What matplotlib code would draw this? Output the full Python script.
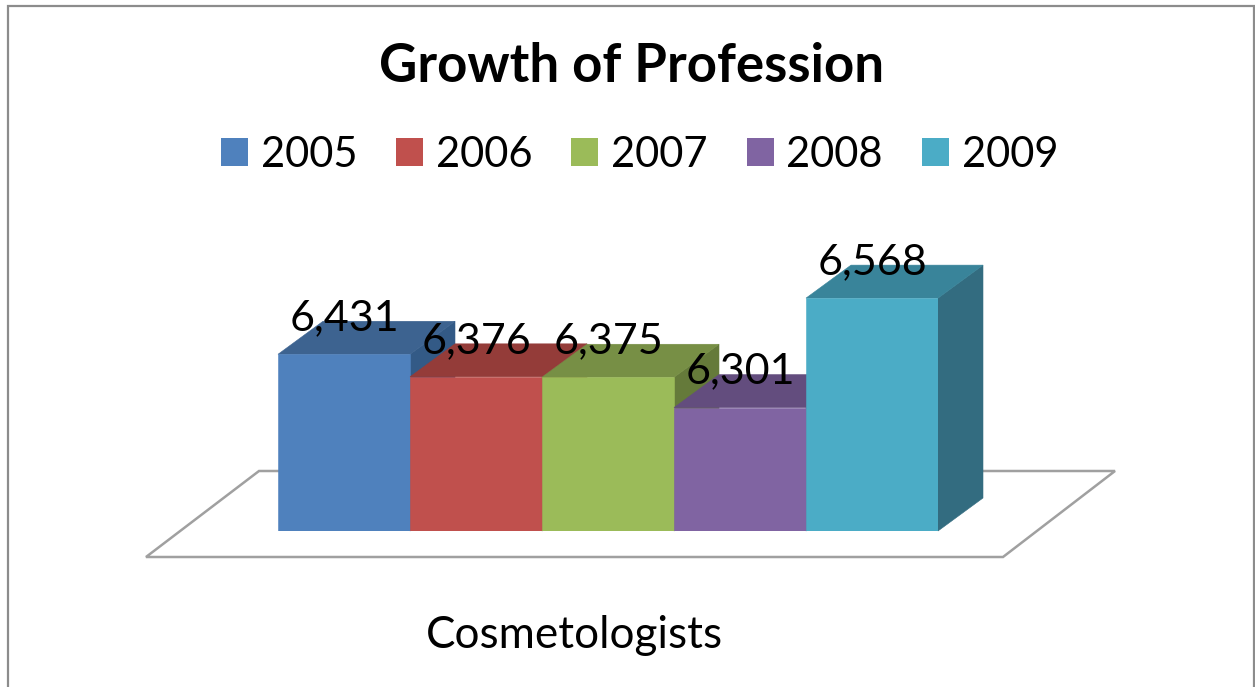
import matplotlib
matplotlib.use('Agg')
import matplotlib.pyplot as plt
import matplotlib.patches as patches

years = ['2005', '2006', '2007', '2008', '2009']
counts = [6431, 6376, 6375, 6301, 6568]
category = 'Cosmetologists'
title = 'Growth of Profession'

front_colors = ['#4F81BD', '#C0504D', '#9BBB59', '#8064A2', '#4BACC6']
top_colors = ['#3D6390', '#943C39', '#778F45', '#634D7E', '#39849A']
side_colors = ['#335A86', '#7E3331', '#657A3A', '#544269', '#336C80']

W, H = 1255, 687
plt.rcParams['font.family'] = ['Lato', 'DejaVu Sans']
fig = plt.figure(figsize=(W / 100, H / 100), dpi=100)

# background layer works in pixels, y down
bg = fig.add_axes([0, 0, 1, 1])
bg.set_xlim(0, W)
bg.set_ylim(H, 0)
bg.axis('off')

# chart border, runs off the bottom
bg.plot([8, 8, 1254, 1254], [H, 6, 6, H], color='#8c8c8c', lw=1.6, solid_joinstyle='miter')

# floor of the 3d chart
floor = patches.Polygon([(146, 557), (259, 471), (1115, 471), (1003, 557)], closed=True,
                        facecolor='white', edgecolor='#a0a0a0', lw=1.8)
bg.add_patch(floor)

bg.text(632, 66, title, fontsize=38, fontweight='bold', ha='center', va='center')
bg.text(574, 648, category, fontsize=31.7, ha='center', va='baseline')

# bars: 132 px per category, 0.41 px per unit, base value 6000 at y=531
base = 6000
px_per_unit = 0.41
ax = fig.add_axes([278 / W, (H - 531) / H, 660 / W, 531 / H])
ax.patch.set_alpha(0)
ax.set_xlim(-0.5, 4.5)
ax.set_ylim(base, base + 531 / px_per_unit)
ax.axis('off')

depth_x = 45 / 132
depth_y = 33 / px_per_unit

for i, v in enumerate(counts):
    z = 3 + i
    left, right = i - 0.5, i + 0.5
    top = patches.Polygon([(left, v), (left + depth_x, v + depth_y),
                           (right + depth_x, v + depth_y), (right, v)],
                          closed=True, facecolor=top_colors[i], edgecolor=top_colors[i], lw=0.4, zorder=z)
    side = patches.Polygon([(right, base), (right + depth_x, base + depth_y),
                            (right + depth_x, v + depth_y), (right, v)],
                           closed=True, facecolor=side_colors[i], edgecolor=side_colors[i], lw=0.4, zorder=z)
    top.set_clip_on(False)
    side.set_clip_on(False)
    ax.add_patch(side)
    ax.add_patch(top)
    ax.bar(i, v - base, bottom=base, width=1.0, color=front_colors[i],
           edgecolor=front_colors[i], linewidth=0.4, zorder=z + 0.5)

for i, v in enumerate(counts):
    ax.annotate(f'{v:,}', (i, v), xytext=(0, 24 * 0.72), textcoords='offset points',
                ha='center', va='baseline', fontsize=31, color='black', zorder=20,
                annotation_clip=False)

handles = [patches.Patch(facecolor=c, edgecolor='none', label=y) for c, y in zip(front_colors, years)]
fig.legend(handles=handles, ncol=5, loc='center', bbox_to_anchor=(639.5 / W, 1 - 155 / H),
           frameon=False, fontsize=30, handlelength=0.65, handleheight=0.65,
           handletextpad=0.31, columnspacing=0.93, borderpad=0, borderaxespad=0)

fig.savefig('out.png', dpi=100)
plt.close(fig)
